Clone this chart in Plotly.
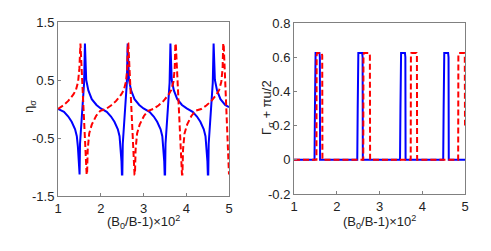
import plotly.graph_objects as go

# ---- left panel: eta_sigma ----
eta_blue_x = [1.00, 1.14, 1.24, 1.32, 1.40, 1.44, 1.465, 1.485, 1.495, 1.505, 1.515, 1.61, 1.63, 1.64, 1.66, 1.71, 1.79, 1.90,
              2.00, 2.14, 2.24, 2.32, 2.40, 2.44, 2.465, 2.485, 2.495, 2.505, 2.515, 2.61, 2.63, 2.64, 2.66, 2.71, 2.79, 2.90,
              3.00, 3.14, 3.24, 3.32, 3.40, 3.44, 3.465, 3.485, 3.495, 3.505, 3.515, 3.61, 3.63, 3.64, 3.66, 3.71, 3.79, 3.90,
              4.01, 4.15, 4.25, 4.33, 4.41, 4.45, 4.475, 4.495, 4.505, 4.515, 4.525, 4.62, 4.64, 4.65, 4.67, 4.72, 4.80, 4.91,
              5.00]
eta_blue_y = [0.00, -0.05, -0.13, -0.22, -0.35, -0.47, -0.65, -0.90, -1.13, -1.13, -0.60, 0.45, 1.13, 0.70, 0.50, 0.32, 0.17, 0.07,
              0.01, -0.05, -0.13, -0.22, -0.35, -0.47, -0.65, -0.90, -1.13, -1.13, -0.60, 0.45, 1.13, 0.70, 0.50, 0.32, 0.17, 0.07,
              0.01, -0.05, -0.13, -0.22, -0.35, -0.47, -0.65, -0.90, -1.13, -1.13, -0.60, 0.45, 1.13, 0.70, 0.50, 0.32, 0.17, 0.07,
              0.01, -0.05, -0.13, -0.22, -0.35, -0.47, -0.65, -0.90, -1.13, -1.13, -0.60, 0.45, 1.13, 0.70, 0.50, 0.32, 0.17, 0.07,
              0.03]

eta_red_x = [1.00, 1.12, 1.24, 1.36, 1.42, 1.47, 1.50, 1.515, 1.525, 1.67, 1.68, 1.695, 1.73, 1.79, 1.89, 1.99,
             2.12, 2.24, 2.36, 2.48, 2.54, 2.59, 2.62, 2.635, 2.645, 2.79, 2.80, 2.815, 2.85, 2.91, 3.01, 3.11,
             3.23, 3.35, 3.47, 3.59, 3.65, 3.70, 3.73, 3.745, 3.755, 3.90, 3.91, 3.925, 3.96, 4.02, 4.12, 4.22,
             4.35, 4.47, 4.59, 4.71, 4.77, 4.82, 4.85, 4.865, 4.875, 5.00]
eta_red_y = [0.00, 0.06, 0.14, 0.25, 0.33, 0.47, 0.70, 1.13, 1.13, -1.13, -1.13, -0.70, -0.42, -0.27, -0.12, -0.03,
             0.00, 0.06, 0.14, 0.25, 0.33, 0.47, 0.70, 1.13, 1.13, -1.13, -1.13, -0.70, -0.42, -0.27, -0.12, -0.03,
             0.00, 0.06, 0.14, 0.25, 0.33, 0.47, 0.70, 1.13, 1.13, -1.13, -1.13, -0.70, -0.42, -0.27, -0.12, -0.03,
             0.00, 0.06, 0.14, 0.25, 0.33, 0.47, 0.70, 1.13, 1.13, -1.13]

# ---- right panel: Gamma_sigma + pi u / 2 ----
gam_blue_x = [1.00, 1.48, 1.49, 1.495, 1.505, 1.595, 1.605, 1.61,
              2.48, 2.49, 2.495, 2.505, 2.595, 2.605, 2.61,
              3.48, 3.49, 3.495, 3.505, 3.595, 3.605, 3.61,
              4.49, 4.50, 4.505, 4.515, 4.605, 4.615, 4.62, 5.00]
gam_blue_y = [0.0, 0.0, 0.30, 0.61, 0.625, 0.625, 0.60, 0.0,
              0.0, 0.30, 0.61, 0.625, 0.625, 0.60, 0.0,
              0.0, 0.30, 0.61, 0.625, 0.625, 0.60, 0.0,
              0.0, 0.30, 0.61, 0.625, 0.625, 0.60, 0.0, 0.0]

gam_red_x = [1.00, 1.525, 1.53, 1.54, 1.65, 1.66, 1.665,
             2.62, 2.625, 2.635, 2.765, 2.775, 2.78,
             3.73, 3.735, 3.745, 3.865, 3.875, 3.88,
             4.84, 4.845, 4.855, 4.985, 4.995, 5.00]
gam_red_y = [0.0, 0.0, 0.61, 0.625, 0.625, 0.61, 0.0,
             0.0, 0.61, 0.625, 0.625, 0.61, 0.0,
             0.0, 0.61, 0.625, 0.625, 0.61, 0.0,
             0.0, 0.61, 0.625, 0.625, 0.61, 0.20]

x_ticks = [1, 2, 3, 4, 5]
eta_ticks = [-1.5, -0.5, 0.5, 1.5]
eta_tick_text = ["-1.5", "-0.5", "0.5", "1.5"]
gam_ticks = [-0.2, 0, 0.2, 0.4, 0.6, 0.8]
gam_tick_text = ["-0.2", "0", "0.2", "0.4", "0.6", "0.8"]

BLUE = "#0000ff"
RED = "#ff0000"
AX = "#808080"
FONT = "Arial, Liberation Sans, sans-serif"

fig = go.Figure()
fig.add_trace(go.Scatter(x=eta_blue_x, y=eta_blue_y, mode="lines",
                         line=dict(color=BLUE, width=2), xaxis="x", yaxis="y"))
fig.add_trace(go.Scatter(x=eta_red_x, y=eta_red_y, mode="lines",
                         line=dict(color=RED, width=2, dash="6px,3px"), xaxis="x", yaxis="y"))
fig.add_trace(go.Scatter(x=gam_blue_x, y=gam_blue_y, mode="lines",
                         line=dict(color=BLUE, width=2), xaxis="x2", yaxis="y2"))
fig.add_trace(go.Scatter(x=gam_red_x, y=gam_red_y, mode="lines",
                         line=dict(color=RED, width=2, dash="6px,3px"), xaxis="x2", yaxis="y2"))

axis_common = dict(showline=True, linecolor=AX, linewidth=1, mirror=True,
                   ticks="inside", ticklen=3, tickcolor=AX, showgrid=False,
                   zeroline=False, automargin=False,
                   tickfont=dict(family=FONT, size=13, color="#222"))

W, H = 491, 251
ann_font = dict(family=FONT, size=13, color="#222")

fig.update_layout(
    width=W, height=H,
    margin=dict(l=0, r=0, t=0, b=0, autoexpand=False),
    paper_bgcolor="white", plot_bgcolor="white",
    showlegend=False,
    xaxis=dict(domain=[58/W, 229/W], range=[1, 5], tickvals=x_ticks, anchor="y", **axis_common),
    yaxis=dict(domain=[(H-196)/H, (H-22)/H], range=[-1.5, 1.5], tickvals=eta_ticks,
               ticktext=eta_tick_text, anchor="x", **axis_common),
    xaxis2=dict(domain=[294/W, 465/W], range=[1, 5], tickvals=x_ticks, anchor="y2", **axis_common),
    yaxis2=dict(domain=[(H-194)/H, (H-23)/H], range=[-0.2, 0.8], tickvals=gam_ticks,
                ticktext=gam_tick_text, anchor="x2", **axis_common),
    annotations=[
        dict(text="(B<sub>0</sub>/B-1)×10<sup>2</sup>", x=143.5/W, y=(H-222)/H, xref="paper", yref="paper",
             xanchor="center", yanchor="middle", showarrow=False, font=ann_font),
        dict(text="(B<sub>0</sub>/B-1)×10<sup>2</sup>", x=379.5/W, y=(H-222)/H, xref="paper", yref="paper",
             xanchor="center", yanchor="middle", showarrow=False, font=ann_font),
        dict(text="η<sub>σ</sub>", x=30/W, y=(H-107)/H, xref="paper", yref="paper",
             xanchor="center", yanchor="middle", showarrow=False, textangle=-90, font=ann_font),
        dict(text="Γ<sub>σ</sub> + πu/2", x=268/W, y=(H-108)/H, xref="paper", yref="paper",
             xanchor="center", yanchor="middle", showarrow=False, textangle=-90, font=ann_font),
    ],
)

fig.write_html("out.html", config={"displayModeBar": False, "staticPlot": True})

# remove the browser's default page margin so the figure sits at the window origin
with open("out.html", "r", encoding="utf-8") as f:
    html = f.read()
html = html.replace("<head>", "<head><style>html,body{margin:0;padding:0;overflow:hidden;}</style>", 1)
with open("out.html", "w", encoding="utf-8") as f:
    f.write(html)
